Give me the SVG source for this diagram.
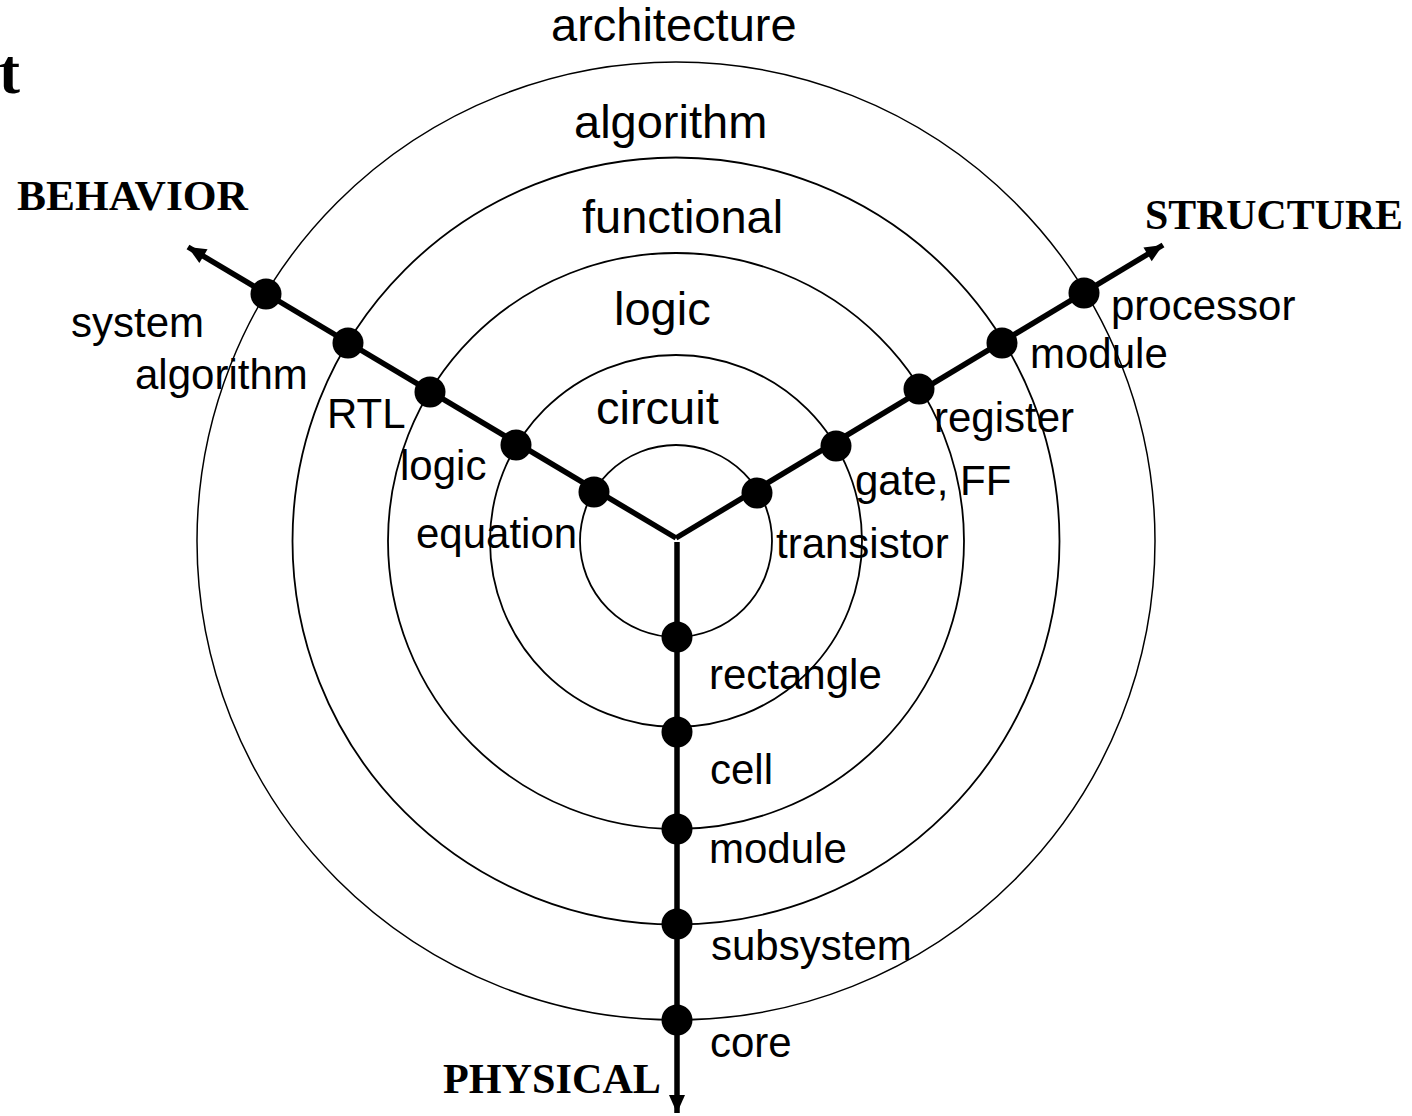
<svg xmlns="http://www.w3.org/2000/svg" width="1412" height="1116" viewBox="0 0 1412 1116">
  <style>
    .ring { fill: none; stroke: #000; stroke-width: 1.8; }
    .ring.outer { stroke-width: 1.5; }
    .axis { fill: none; stroke: #000; stroke-width: 5.5; }
    .dot { fill: #000; }
    .lvl { font-family: "Liberation Sans", Arial, Helvetica, sans-serif; font-size: 47px; fill: #000; }
    .lbl { font-family: "Liberation Sans", Arial, Helvetica, sans-serif; font-size: 42px; fill: #000; }
    .dom { font-family: "Liberation Serif", "Times New Roman", serif; font-size: 42px; font-weight: bold; fill: #000; }
  </style>
  <defs>
    <marker id="head" viewBox="-20 -10 22 20" refX="0" refY="0" markerWidth="22" markerHeight="20" markerUnits="userSpaceOnUse" orient="auto">
      <path d="M0,0 L-18,-8 L-18,8 Z" fill="#000"/>
    </marker>
  </defs>
  <rect width="1412" height="1116" fill="#fff"/>

  <!-- clipped title fragment -->
  <text class="dom" x="-1" y="93" style="font-size:63px">t</text>

  <!-- abstraction levels: concentric rings -->
  <g id="rings">
    <circle class="ring outer" cx="676" cy="541" r="479"/>
    <circle class="ring" cx="676" cy="541" r="383.5"/>
    <circle class="ring" cx="676" cy="541" r="288"/>
    <circle class="ring" cx="676" cy="541" r="186"/>
    <circle class="ring" cx="676" cy="541" r="96"/>
  </g>

  <!-- ring names -->
  <g id="levels">
    <text class="lvl" x="551" y="41">architecture</text>
    <text class="lvl" x="574" y="138">algorithm</text>
    <text class="lvl" x="582" y="233">functional</text>
    <text class="lvl" x="614" y="325">logic</text>
    <text class="lvl" x="596" y="424">circuit</text>
  </g>

  <!-- the three domain axes -->
  <g id="connectors">
    <line class="axis" x1="676" y1="538" x2="188" y2="247" marker-end="url(#head)"/>
    <line class="axis" x1="676" y1="538" x2="1163" y2="245" marker-end="url(#head)"/>
    <line class="axis" x1="677" y1="542" x2="677" y2="1113" marker-end="url(#head)"/>
  </g>

  <!-- domain titles -->
  <g id="domain-behavior"><text class="dom" x="17" y="210" textLength="231" lengthAdjust="spacingAndGlyphs">BEHAVIOR</text></g>
  <g id="domain-structure"><text class="dom" x="1145" y="229" textLength="258" lengthAdjust="spacingAndGlyphs">STRUCTURE</text></g>
  <g id="domain-physical"><text class="dom" x="443" y="1093" textLength="218" lengthAdjust="spacingAndGlyphs">PHYSICAL</text></g>

  <!-- behavioral domain nodes -->
  <g id="b-system"><circle class="dot" cx="266" cy="294" r="15.5"/><text class="lbl" x="71" y="337">system</text></g>
  <g id="b-algorithm"><circle class="dot" cx="348" cy="343" r="15.5"/><text class="lbl" x="135" y="389">algorithm</text></g>
  <g id="b-rtl"><circle class="dot" cx="430" cy="392" r="15.5"/><text class="lbl" x="327" y="428">RTL</text></g>
  <g id="b-logic"><circle class="dot" cx="516" cy="445" r="15.5"/><text class="lbl" x="400" y="480">logic</text></g>
  <g id="b-equation"><circle class="dot" cx="594" cy="492" r="15.5"/><text class="lbl" x="416" y="548">equation</text></g>

  <!-- structural domain nodes -->
  <g id="s-processor"><circle class="dot" cx="1084" cy="293" r="15.5"/><text class="lbl" x="1111" y="320">processor</text></g>
  <g id="s-module"><circle class="dot" cx="1002" cy="343" r="15.5"/><text class="lbl" x="1030" y="368">module</text></g>
  <g id="s-register"><circle class="dot" cx="919" cy="389" r="15.5"/><text class="lbl" x="934" y="432">register</text></g>
  <g id="s-gate"><circle class="dot" cx="836" cy="446" r="15.5"/><text class="lbl" x="855" y="495">gate, FF</text></g>
  <g id="s-transistor"><circle class="dot" cx="757" cy="493" r="15.5"/><text class="lbl" x="776" y="558">transistor</text></g>

  <!-- physical domain nodes -->
  <g id="p-rectangle"><circle class="dot" cx="677" cy="637" r="15.5"/><text class="lbl" x="709" y="689">rectangle</text></g>
  <g id="p-cell"><circle class="dot" cx="677" cy="732" r="15.5"/><text class="lbl" x="710" y="784">cell</text></g>
  <g id="p-module"><circle class="dot" cx="677" cy="829" r="15.5"/><text class="lbl" x="709" y="863">module</text></g>
  <g id="p-subsystem"><circle class="dot" cx="677" cy="924" r="15.5"/><text class="lbl" x="711" y="960">subsystem</text></g>
  <g id="p-core"><circle class="dot" cx="677" cy="1020" r="15.5"/><text class="lbl" x="710" y="1057">core</text></g>
</svg>
